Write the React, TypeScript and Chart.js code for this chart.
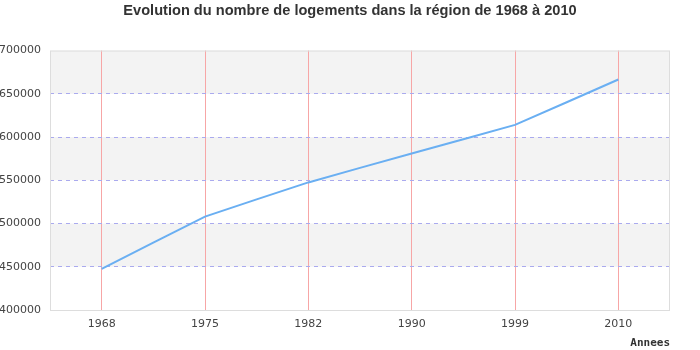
import React, { useEffect, useRef } from "react";
import { Chart, registerables } from "chart.js";

Chart.register(...registerables);

const years = ["1968", "1975", "1982", "1990", "1999", "2010"];
const logements = [447500, 508000, 547500, 581000, 614000, 666500];
const chartTitle = "Evolution du nombre de logements dans la région de 1968 à 2010";
const xTitle = "Annees";
const yMin = 400000;
const yMax = 700000;
const yStep = 50000;

const bandsPlugin = {
  id: "bands",
  beforeDraw(chart: any) {
    const { ctx, chartArea, scales } = chart;
    const y = scales.y;
    ctx.save();
    ctx.fillStyle = "#f3f3f3";
    let k = 0;
    for (let v = yMax - yStep; v >= yMin; v -= yStep, k++) {
      if (k % 2 === 0) {
        const top = y.getPixelForValue(v + yStep);
        const bot = y.getPixelForValue(v);
        ctx.fillRect(chartArea.left, top, chartArea.right - chartArea.left, bot - top);
      }
    }
    ctx.restore();
  },
  afterDatasetsDraw(chart: any) {
    const { ctx, chartArea } = chart;
    ctx.save();
    ctx.strokeStyle = "#dddddd";
    ctx.lineWidth = 1;
    ctx.strokeRect(chartArea.left + 0.5, chartArea.top + 0.5, chartArea.right - chartArea.left - 1, chartArea.bottom - chartArea.top);
    ctx.restore();
  },
};

export default function App() {
  const ref = useRef<HTMLCanvasElement>(null);
  useEffect(() => {
    const chart = new Chart(ref.current!, {
      type: "line",
      data: {
        labels: years,
        datasets: [
          {
            data: logements,
            borderColor: "#6aaff2",
            borderWidth: 2,
            pointRadius: 0,
            tension: 0.03,
            fill: false,
            yAxisID: "y",
          },
        ],
      },
      options: {
        animation: false,
        responsive: false,
        layout: { padding: 0 },
        plugins: {
          legend: { display: false },
          tooltip: { enabled: false },
          title: {
            display: true,
            text: chartTitle,
            color: "#333333",
            font: { family: "'Liberation Sans', Arial, sans-serif", size: 14.6, weight: "bold" },
            padding: { top: 2, bottom: 31 },
          },
        },
        scales: {
          x: {
            offset: true,
            grid: { color: "#f7a6a6", drawTicks: false, offset: false },
            border: { display: false },
            ticks: { color: "#444444", font: { family: "'DejaVu Sans', sans-serif", size: 11 }, padding: 8 },
            title: {
              display: true,
              text: xTitle,
              align: "end",
              color: "#333333",
              font: { family: "'DejaVu Sans Mono', monospace", size: 11, weight: "bold" },
              padding: { top: 4, bottom: 0 },
            },
            afterFit: (s: any) => { s.height = 40; },
          },
          y: {
            min: yMin,
            max: yMax,
            grid: {
              color: (c: any) => (c.tick && (c.tick.value === yMin || c.tick.value === yMax) ? "rgba(0,0,0,0)" : "#aaaaee"),
              drawTicks: false,
            },
            border: { display: false, dash: [4, 4] },
            ticks: {
              stepSize: yStep,
              color: "#444444",
              font: { family: "'DejaVu Sans', sans-serif", size: 11 },
              padding: 9,
              callback: (v: any) => String(v),
            },
            afterFit: (s: any) => { s.width = 50; },
          },
          yRight: {
            position: "right",
            min: yMin,
            max: yMax,
            grid: { display: false, drawTicks: false },
            border: { display: false },
            ticks: { display: false },
            afterFit: (s: any) => { s.width = 30; },
          },
        },
      },
      plugins: [bandsPlugin],
    });
    return () => chart.destroy();
  }, []);
  return (
    <div style={{ position: "fixed", left: 0, top: 0, width: 700, height: 350, background: "#fff" }}>
      <canvas ref={ref} width={700} height={350} />
    </div>
  );
}
